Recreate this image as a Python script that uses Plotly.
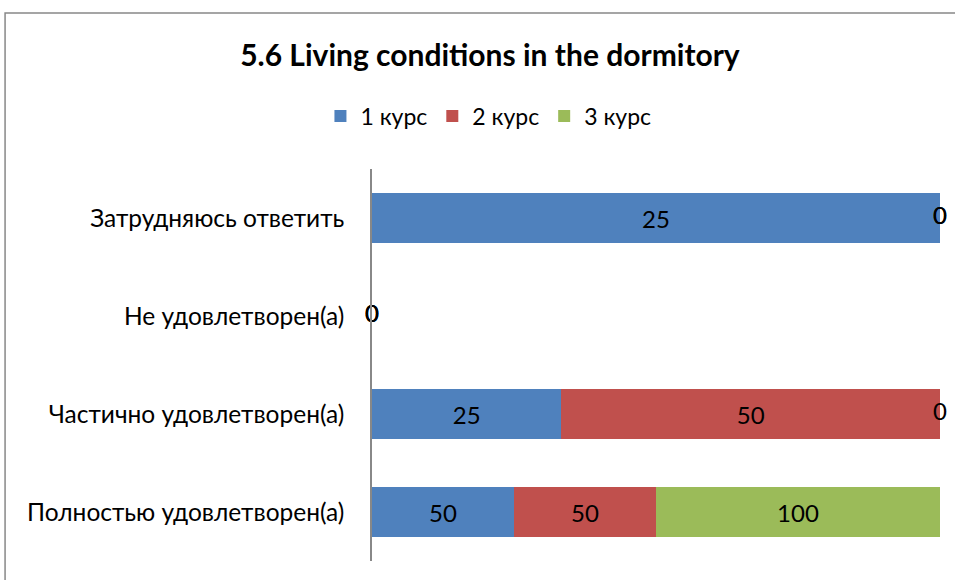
import plotly.graph_objects as go

categories = ["Полностью удовлетворен(а)", "Частично удовлетворен(а)",
              "Не удовлетворен(а)", "Затрудняюсь ответить"]
series_names = ["1 курс", "2 курс", "3 курс"]
values_1 = [50, 25, 0, 25]
values_2 = [50, 50, 0, 0]
values_3 = [100, 0, 0, 0]
colors = ["#4F81BD", "#C0504D", "#9BBB59"]

FONT = "Lato, 'Noto Sans', sans-serif"
all_vals = [values_1, values_2, values_3]

fig = go.Figure()
for name, vals, col in zip(series_names, all_vals, colors):
    fig.add_trace(go.Bar(
        y=categories, x=vals, name=name, orientation="h",
        marker=dict(color=col, line=dict(width=0)),
        text=[str(v) if v else "" for v in vals],
        textposition="inside", insidetextanchor="middle",
        textfont=dict(color="black", size=24, family=FONT),
        hoverinfo="skip",
    ))

# labels for zero-valued segments, placed at their cumulative position
zx, zy = [], []
for i, cat in enumerate(categories):
    total = sum(v[i] for v in all_vals)
    cum = 0
    for vals in all_vals:
        if vals[i] == 0:
            zx.append(100 * cum / total if total else 0)
            zy.append(cat)
        cum += vals[i]
fig.add_trace(go.Scatter(x=zx, y=zy, mode="text", text=["0"] * len(zx),
                         textfont=dict(color="black", size=24, family=FONT),
                         showlegend=False, cliponaxis=False, hoverinfo="skip"))

fig.update_layout(
    width=955, height=580, barmode="stack", barnorm="percent", bargap=0.49,
    paper_bgcolor="white", plot_bgcolor="white",
    margin=dict(l=372, r=15, t=169, b=19),
    font=dict(family=FONT, color="black", size=23),
    title=dict(text="<b>5.6 Living conditions in the dormitory</b>",
               x=0.513, xanchor="center", y=0.905, yanchor="middle",
               font=dict(size=30, family=FONT, color="black")),
    legend=dict(orientation="h", x=0.205, xanchor="center", y=1.135,
                yanchor="middle", font=dict(size=23, family=FONT),
                itemwidth=30, traceorder="normal"),
    xaxis=dict(range=[0, 100], visible=False, fixedrange=True),
    yaxis=dict(categoryorder="array", categoryarray=categories,
               showline=True, linecolor="#888888", linewidth=1.5,
               ticks="", ticklabelstandoff=21, showgrid=False,
               tickfont=dict(size=24.5, family=FONT)),
    shapes=[dict(type="path", xref="paper", yref="paper",
                 path="M -0.646,-0.2 L -0.646,1.398 L 1.2,1.398",
                 line=dict(color="#888888", width=1.5))],
)

fig.write_html("out.html", config={"displayModeBar": False},
               post_script="document.body.style.margin='0';")
